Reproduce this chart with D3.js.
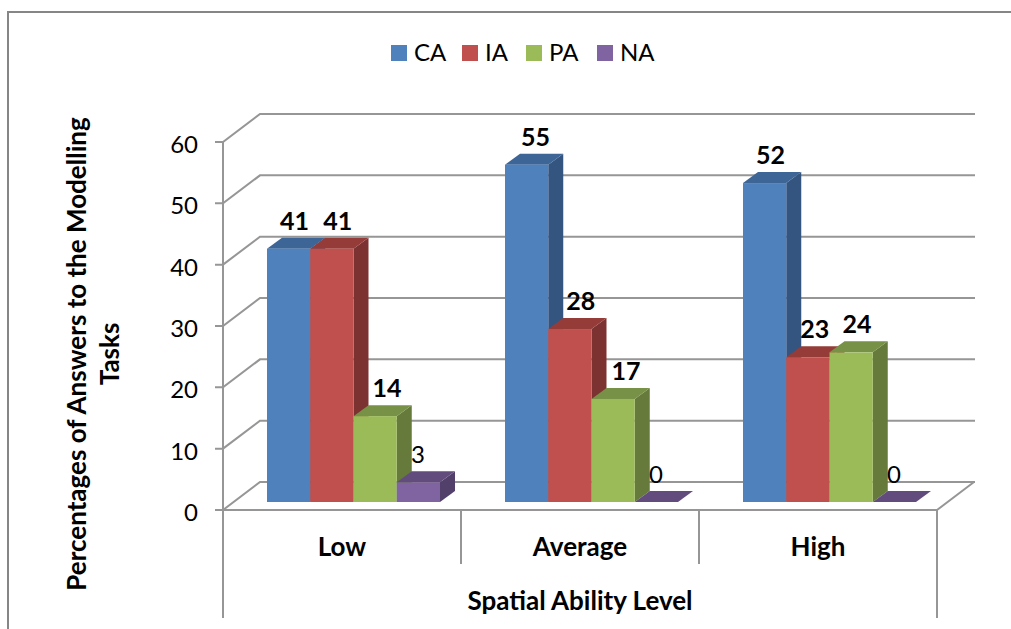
<!DOCTYPE html>
<html>
<head>
<meta charset="utf-8">
<script src="https://cdn.jsdelivr.net/npm/d3@7"></script>
<style>
  html, body { margin: 0; padding: 0; background: #fff; }
  svg { display: block; font-family: Lato, sans-serif; }
</style>
</head>
<body>
<svg id="chart" width="1011" height="629"></svg>
<script>
const categories = ['Low', 'Average', 'High']
const seriesNames = ['CA', 'IA', 'PA', 'NA']
// bar heights
const CA = [41.3, 55, 52]
const IA = [41.3, 28.2, 23.6]
const PA = [14, 16.8, 24.4]
const NA = [3.2, 0, 0]
const seriesValues = [CA, IA, PA, NA]
// printed labels
const labelCA = ['41', '55', '52']
const labelIA = ['41', '28', '23']
const labelPA = ['14', '17', '24']
const labelNA = ['3', '0', '0']
const seriesLabels = [labelCA, labelIA, labelPA, labelNA]
const yTicks = [0, 10, 20, 30, 40, 50, 60]

// face, top, side
const colours = {
  CA: ['#4f81bd', '#3d6596', '#34557f'],
  IA: ['#c0504d', '#953c39', '#7c3230'],
  PA: ['#9bbb59', '#779146', '#657a3b'],
  NA: ['#8064a2', '#624c7e', '#53406a']
}

// labels were dragged by hand in the original, so they sit a bit off centre
const labelNudge = [[6, 6, 12, 0], [9, 11, 13, 0], [6, 7, 6, 0]]

const svg = d3.select('#chart')

// oblique offset of the back wall and of a bar
const wall = { dx: 37, dy: -28 }
const bar = { dx: 15, dy: -11 }

const x0 = d3.scaleBand().domain(categories).range([223, 937])
const x1 = d3.scaleBand().domain(seriesNames).range([44, 217])
const y = d3.scaleLinear().domain([0, 60]).range([510, 142])
const barLift = 8 // bars stand a little behind the front edge

// frame, the original is cropped on the right and at the bottom
svg.append('path')
  .attr('d', 'M8,629V12H1011')
  .attr('fill', 'none')
  .attr('stroke', '#868686')
  .attr('stroke-width', 2)

// walls and gridlines
const grid = svg.append('g').attr('fill', 'none').attr('stroke', '#969696').attr('stroke-width', 2)
yTicks.forEach(t => {
  const p = d3.path()
  p.moveTo(215, y(t))
  p.lineTo(223, y(t))
  p.lineTo(223 + wall.dx, y(t) + wall.dy)
  p.lineTo(975, y(t) + wall.dy)
  grid.append('path').attr('d', p.toString())
})
const base = d3.path()
base.moveTo(223, y(60)); base.lineTo(223, 618)
base.moveTo(223, y(0)); base.lineTo(937, y(0)); base.lineTo(937, 618)
base.moveTo(937, y(0)); base.lineTo(937 + wall.dx, y(0) + wall.dy)
categories.slice(1).forEach(c => {
  base.moveTo(x0(c), y(0)); base.lineTo(x0(c), 564)
})
grid.append('path').attr('d', base.toString())

// y tick labels
svg.append('g').selectAll('text').data(yTicks).join('text')
  .attr('x', 198)
  .attr('y', d => y(d) + 11)
  .attr('text-anchor', 'end')
  .attr('font-size', 24)
  .attr('fill', '#000')
  .text(d => d)

// bars
const bars = svg.append('g')
categories.forEach((c, i) => {
  seriesNames.forEach((s, j) => {
    const v = seriesValues[j][i]
    const l = x0(c) + x1(s)
    const r = l + x1.bandwidth()
    const bot = y(0) - barLift
    const t = y(v) - barLift
    const g = bars.append('g')
    g.append('path').attr('fill', colours[s][2])
      .attr('d', `M${r},${t}L${r + bar.dx},${t + bar.dy}L${r + bar.dx},${bot + bar.dy}L${r},${bot}Z`)
    g.append('path').attr('fill', colours[s][1])
      .attr('d', `M${l},${t}L${l + bar.dx},${t + bar.dy}L${r + bar.dx},${t + bar.dy}L${r},${t}Z`)
    if (v > 0) g.append('rect').attr('x', l).attr('y', t).attr('width', r - l).attr('height', bot - t).attr('fill', colours[s][0])

    // NA labels are regular weight and pushed left against the PA bar
    const bold = j < 3
    g.append('text')
      .attr('x', bold ? l + x1.bandwidth() / 2 + labelNudge[i][j] : r - 22)
      .attr('y', t + bar.dy - 8)
      .attr('text-anchor', 'middle')
      .attr('font-size', bold ? 25 : 24)
      .attr('font-weight', bold ? 700 : 400)
      .attr('fill', '#000')
      .text(seriesLabels[j][i])
  })
})

// category labels
svg.append('g').selectAll('text').data(categories).join('text')
  .attr('x', d => x0(d) + x0.bandwidth() / 2)
  .attr('y', 556)
  .attr('text-anchor', 'middle')
  .attr('font-size', 26)
  .attr('font-weight', 700)
  .text(d => d)

// axis titles
svg.append('text')
  .attr('x', 580).attr('y', 610)
  .attr('text-anchor', 'middle')
  .attr('font-size', 26).attr('font-weight', 700)
  .text('Spatial Ability Level')

const yTitle = svg.append('text')
  .attr('transform', 'translate(86,354) rotate(-90)')
  .attr('text-anchor', 'middle')
  .attr('font-size', 26).attr('font-weight', 700)
yTitle.append('tspan').attr('x', 0).attr('y', 0).text('Percentages of Answers to the Modelling')
yTitle.append('tspan').attr('x', 0).attr('y', 33).text('Tasks')

// legend
const legendX = d3.scaleOrdinal().domain(seriesNames).range([391, 462, 526, 597])
const legend = svg.append('g').selectAll('g').data(seriesNames).join('g')
  .attr('transform', d => `translate(${legendX(d)},45)`)
legend.append('rect').attr('width', 16).attr('height', 16).attr('fill', d => colours[d][0])
legend.append('text').attr('x', 23).attr('y', 16).attr('font-size', 24).text(d => d)
</script>
</body>
</html>
